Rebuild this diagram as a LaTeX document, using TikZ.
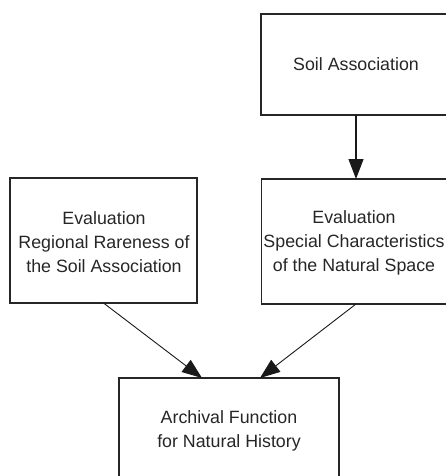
\documentclass[tikz,border=0pt]{standalone}
\usepackage{fontspec}
\setmainfont{Liberation Sans}
\usetikzlibrary{arrows.meta}
\begin{document}
\begin{tikzpicture}[x=1pt,y=-1pt,
  boxline/.style={draw=black!85, line width=1.4pt},
  lbl/.style={align=center, font=\fontsize{17.8}{24}\selectfont, text=black!85},
  conn/.style={draw=black!90, line width=0.9pt, -{Triangle[length=20pt,width=15pt]}, shorten >=0pt}
]
\useasboundingbox (0,0) rectangle (446,476);
% boxes
\draw[boxline] (261,14) rectangle (451,115);
\draw[boxline] (261.5,179) rectangle (451,304);
\draw[boxline] (10,178) rectangle (197,303);
\draw[boxline] (119,378) rectangle (339,483);
% labels
\node[lbl, inner sep=0pt] (soil) at (356,64.5) {Soil Association};
\node[lbl, inner sep=0pt] (special) at (354,242.5) {Evaluation\\Special Characteristics\\of the Natural Space};
\node[lbl, inner sep=0pt] (regional) at (104,242) {Evaluation\\Regional Rareness of\\the Soil Association};
\node[lbl, inner sep=0pt] (archival) at (229,430.5) {Archival Function\\for Natural History};
\coordinate (inL) at (202,378);
\coordinate (inR) at (260,378);
\coordinate (soilbot) at (356,115);
\coordinate (spectop) at (356,179);
\coordinate (specbot) at (356,304);
\coordinate (regbot) at (103.5,303);
% connectors
\draw[conn, line width=1.2pt] (soilbot) -- (spectop);
\draw[conn] (regbot) -- (inL);
\draw[conn] (specbot) -- (inR);
\end{tikzpicture}
\end{document}
